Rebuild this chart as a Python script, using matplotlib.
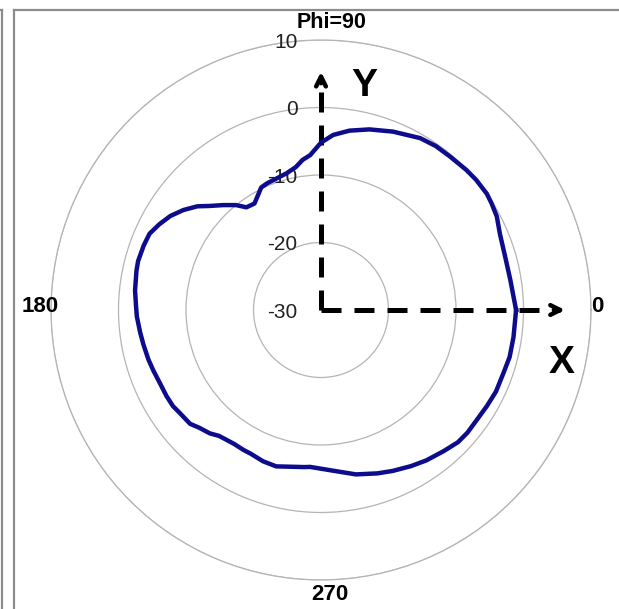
import numpy as np
import matplotlib
matplotlib.use('Agg')
import matplotlib.pyplot as plt
from matplotlib.lines import Line2D

plt.rcParams['font.family'] = ['Liberation Sans', 'DejaVu Sans']

# radiation pattern: angle (deg) -> gain (dB)
phi_deg = [0, 9, 16, 23, 28, 32, 35, 40, 44, 50, 55, 60, 68, 75, 81, 86,
           90, 94, 97, 100, 104, 110, 113, 116, 122, 126, 129, 133, 137,
           140, 144, 148, 152, 156, 160, 165, 168, 174, 179, 182, 187, 191,
           196, 200, 205, 209, 213, 216, 221, 224, 228, 231, 237, 241, 244,
           249, 254, 264, 266, 273, 282, 289, 294, 300, 305, 311, 316, 320,
           325, 330, 335, 341, 346, 352, 360]
gain_db = [-1.1, -1.6, -1.6, -1.2, -0.5, -0.2, 0.0, 0.0, -0.1, -0.3, -0.35,
           -0.6, -1.5, -2.3, -3.1, -4.0, -5.2, -7.0, -7.6, -8.5, -9.1, -9.5,
           -9.6, -9.8, -11.4, -11.2, -10.0, -8.75, -7.4, -6.1, -4.8, -3.7,
           -2.9, -2.2, -2.05, -1.95, -2.05, -2.3, -2.6, -2.7, -3.0, -3.2,
           -3.4, -3.6, -3.8, -3.8, -3.85, -4.1, -4.3, -4.9, -5.4, -6.0,
           -6.35, -6.3, -6.3, -6.0, -5.9, -6.6, -6.7, -6.25, -5.1, -4.4,
           -3.9, -3.3, -2.8, -2.3, -1.8, -1.7, -1.75, -1.6, -1.4, -1.4,
           -1.2, -1.2, -1.1]

r_ticks = [-30, -20, -10, 0, 10]
r_labels = ['-30', '-20', '-10', '0', '10']

W, H = 619, 609
fig = plt.figure(figsize=(W / 100, H / 100), dpi=100)

# center of the plot (pixels from top-left) and outer radius
cx, cy, R = 321, 310, 270
ax = fig.add_axes([(cx - R) / W, (H - cy - R) / H, 2 * R / W, 2 * R / H],
                  projection='polar')
ax.set_ylim(r_ticks[0], r_ticks[-1])
ax.set_yticks(r_ticks)
ax.set_yticklabels([])
ax.set_xticks([])
ax.yaxis.grid(True, color='#b4b4b4', lw=0.9)
ax.xaxis.grid(False)
ax.spines['polar'].set_color('#b4b4b4')
ax.spines['polar'].set_linewidth(0.9)

theta = np.deg2rad(phi_deg)
ax.plot(theta, gain_db, color='#0c0c8c', lw=3.2, zorder=5,
        solid_joinstyle='round')

# radial labels on the left of the vertical axis
for r, lab in zip(r_ticks, r_labels):
    ax.annotate(lab, xy=(np.pi / 2, r), xytext=(-17, -1.5),
                textcoords='offset points', ha='right', va='center',
                fontsize=15, color='#222222')

# dashed X / Y axes with open arrowheads
ax.plot([0, 0], [-30, 5.4], color='k', lw=3.6, dashes=(4, 2.6),
        dash_capstyle='butt', zorder=4)
ax.plot([np.pi / 2, np.pi / 2], [-30, 4.2], color='k', lw=3.6,
        dashes=(4, 2.6), dash_capstyle='butt', zorder=4)
arrow = dict(arrowstyle='->,head_length=0.7,head_width=0.35', lw=3.2,
             color='k', shrinkA=0, shrinkB=0)
ax.annotate('', xy=(0, 6.15), xytext=(0, 4.5), arrowprops=arrow)
ax.annotate('', xy=(np.pi / 2, 5.3), xytext=(np.pi / 2, 3.6), arrowprops=arrow)

def px(x, y):
    return x / W, 1 - y / H

fig.text(*px(364, 86), 'Y', fontsize=28, fontweight='bold',
         ha='center', va='center')
fig.text(*px(562, 363), 'X', fontsize=28, fontweight='bold',
         ha='center', va='center')

fig.text(*px(332, 22), 'Phi=90', fontsize=15.5, fontweight='bold',
         ha='center', va='center')
fig.text(*px(597, 306), '0', fontsize=16, fontweight='bold',
         ha='center', va='center')
fig.text(*px(40, 306), '180', fontsize=16, fontweight='bold',
         ha='center', va='center')
fig.text(*px(330, 594), '270', fontsize=16, fontweight='bold',
         ha='center', va='center')

# panel frames
gray = '#8c8c8c'
fig.add_artist(Line2D([14 / W, 14 / W], [0, 1 - 10 / H], color=gray, lw=1.6))
fig.add_artist(Line2D([14 / W, 1], [1 - 10 / H, 1 - 10 / H], color=gray, lw=1.6))
fig.add_artist(Line2D([2 / W, 2 / W], [0, 1 - 10 / H], color=gray, lw=1.6))
fig.add_artist(Line2D([0, 2 / W], [1 - 10 / H, 1 - 10 / H], color=gray, lw=1.6))

fig.savefig('out.png', dpi=100)
